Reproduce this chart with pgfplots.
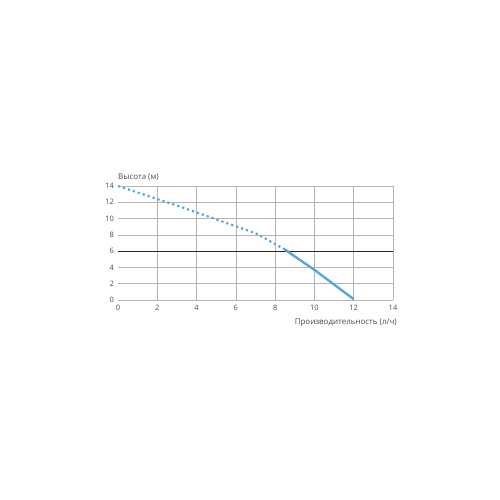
\documentclass[border=0pt]{standalone}
\usepackage{pgfplots}
\pgfplotsset{compat=1.18}
\usepackage{fontspec}
\setmainfont{Open Sans}
\definecolor{curve}{HTML}{5AA6DA}
\definecolor{gridc}{HTML}{B4B4B4}
\definecolor{txt}{HTML}{4A4A4A}
\begin{document}
\begin{tikzpicture}
\path[use as bounding box] (0,0) rectangle (500bp,500bp);
\begin{axis}[
  at={(118bp,200bp)}, anchor=south west,
  scale only axis, width=275bp, height=114bp,
  xmin=0, xmax=14, ymin=0, ymax=14,
  xtick={0,2,...,14}, ytick={0,2,...,14},
  axis line style={draw=none},
  major tick length=0pt,
  ymajorgrids, xmajorgrids=false,
  extra x ticks={2,4,...,14}, extra x tick labels={},
  extra x tick style={xmajorgrids=true},
  grid style={draw=gridc, line width=0.7bp},
  /pgf/number format/assume math mode=true,
  tick label style={font=\fontsize{7.5}{8}\selectfont, text=txt},
  xticklabel style={yshift=-1.5bp},
  yticklabel style={xshift=-0.5bp},
  clip=false,
]
\addplot[black!85, line width=1.1bp] coordinates {(0,6) (14,6)};
\addplot[curve, line width=2.2bp, dash pattern=on 2.2bp off 3bp] coordinates {
(0,14) (1,13.2) (2,12.4) (3,11.6) (4,10.75) (5,9.9) (6,9.05) (7,8.2) (7.4,7.7) (8,6.85) (8.5,6.2)};
\addplot[curve, line width=2.4bp] coordinates {
(8.5,6.2) (9,5.35) (10,3.7) (11,1.9) (12,0.1)};
\node[anchor=base west, font=\fontsize{8}{9}\selectfont, text=txt, inner sep=0pt] at (axis cs:0,14.75) {Высота (м)};
\node[anchor=base east, font=\fontsize{8}{9}\selectfont, text=txt, inner sep=0pt] at (axis cs:14.2,-2.95) {Производительность (л/ч)};
\end{axis}
\end{tikzpicture}
\end{document}
